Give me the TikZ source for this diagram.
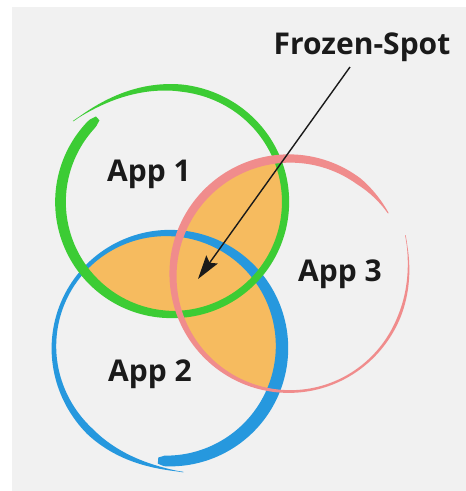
\documentclass[tikz,border=0pt]{standalone}
\usepackage{fontspec}
\setmainfont{Open Sans}
\usetikzlibrary{arrows.meta}

\definecolor{bggray}{RGB}{241,241,241}
\definecolor{appgreen}{RGB}{60,204,52}
\definecolor{appblue}{RGB}{38,152,222}
\definecolor{apppink}{RGB}{240,140,140}
\definecolor{spotorange}{RGB}{246,187,95}
\definecolor{inkdark}{RGB}{26,26,26}

\tikzset{
  label/.style={font=\fontsize{30}{32}\selectfont\bfseries, text=inkdark, inner sep=0pt, anchor=base},
  pointer/.style={draw=inkdark, line width=1.4pt, -{Stealth[length=24pt,width=14pt,inset=4pt]}},
}

\begin{document}
\begin{tikzpicture}[x=1pt,y=-1pt,
  declare function={
    % green ring: centre (173,202), drawn from 219 to 588 degrees
    gr(\t)=112.5+16*exp(-(\t-219)/25);
    gw(\t)=max(0.6,(7.2+3.5*max(0,cos(\t-180)))*min(1,(\t-219)/55))*min(1,0.55+(588-\t)/8);
    % pink ring: centre (289.5,275), drawn from 341 to 688 degrees
    pr(\t)=116.5+6*exp(-(\t-341)/20);
    pw(\t)=max(0.6,(5.5+3.2*cos(\t-240))*min(1,(\t-341)/40))*min(1,0.15+(688-\t)/25);
    % blue ring: centre (168,347), drawn from 83 to 455 degrees
    br(\t)=114+12*exp(-(\t-83)/20);
    bw(\t)=max(0.6,(8.5+4.5*cos(\t-30))*min(1,(\t-83)/50))*min(1,0.6+(455-\t)/8);
  }]

  % canvas
  \useasboundingbox (0,0) rectangle (466,491);
  \fill[bggray] (12,7) rectangle (466,491);

  % overlap regions of each pair of circles
  \begin{scope}
    \clip (173,202) circle[radius=112.5];
    \fill[spotorange] (289.5,275) circle[radius=116.5];
    \fill[spotorange] (168,347) circle[radius=114];
  \end{scope}
  \begin{scope}
    \clip (168,347) circle[radius=114];
    \fill[spotorange] (289.5,275) circle[radius=116.5];
  \end{scope}

  % brush-stroke rings
  \fill[appblue]
    plot[domain=83:455, samples=240, variable=\t]
      ({168+(br(\t)+bw(\t)/2)*cos(\t)}, {347+(br(\t)+bw(\t)/2)*sin(\t)})
    -- plot[domain=455:83, samples=240, variable=\t]
      ({168+(br(\t)-bw(\t)/2)*cos(\t)}, {347+(br(\t)-bw(\t)/2)*sin(\t)})
    -- cycle;
  \fill[appgreen]
    plot[domain=219:588, samples=240, variable=\t]
      ({173+(gr(\t)+gw(\t)/2)*cos(\t)}, {202+(gr(\t)+gw(\t)/2)*sin(\t)})
    -- plot[domain=588:219, samples=240, variable=\t]
      ({173+(gr(\t)-gw(\t)/2)*cos(\t)}, {202+(gr(\t)-gw(\t)/2)*sin(\t)})
    -- cycle;
  \fill[apppink]
    plot[domain=341:688, samples=240, variable=\t]
      ({289.5+(pr(\t)+pw(\t)/2)*cos(\t)}, {275+(pr(\t)+pw(\t)/2)*sin(\t)})
    -- plot[domain=688:341, samples=240, variable=\t]
      ({289.5+(pr(\t)-pw(\t)/2)*cos(\t)}, {275+(pr(\t)-pw(\t)/2)*sin(\t)})
    -- cycle;

  % labels
  \node[label] (app1) at (149,181) {App 1};
  \node[label] (app2) at (150,381) {App 2};
  \node[label] (app3) at (340,281) {App 3};
  \node[label] (frozen) at (362,54) {Frozen-Spot};

  % pointer to the common overlap
  \coordinate (tail) at (350,67);
  \coordinate (spot) at (198,279);
  \draw[pointer] (tail) -- (spot);
\end{tikzpicture}
\end{document}
